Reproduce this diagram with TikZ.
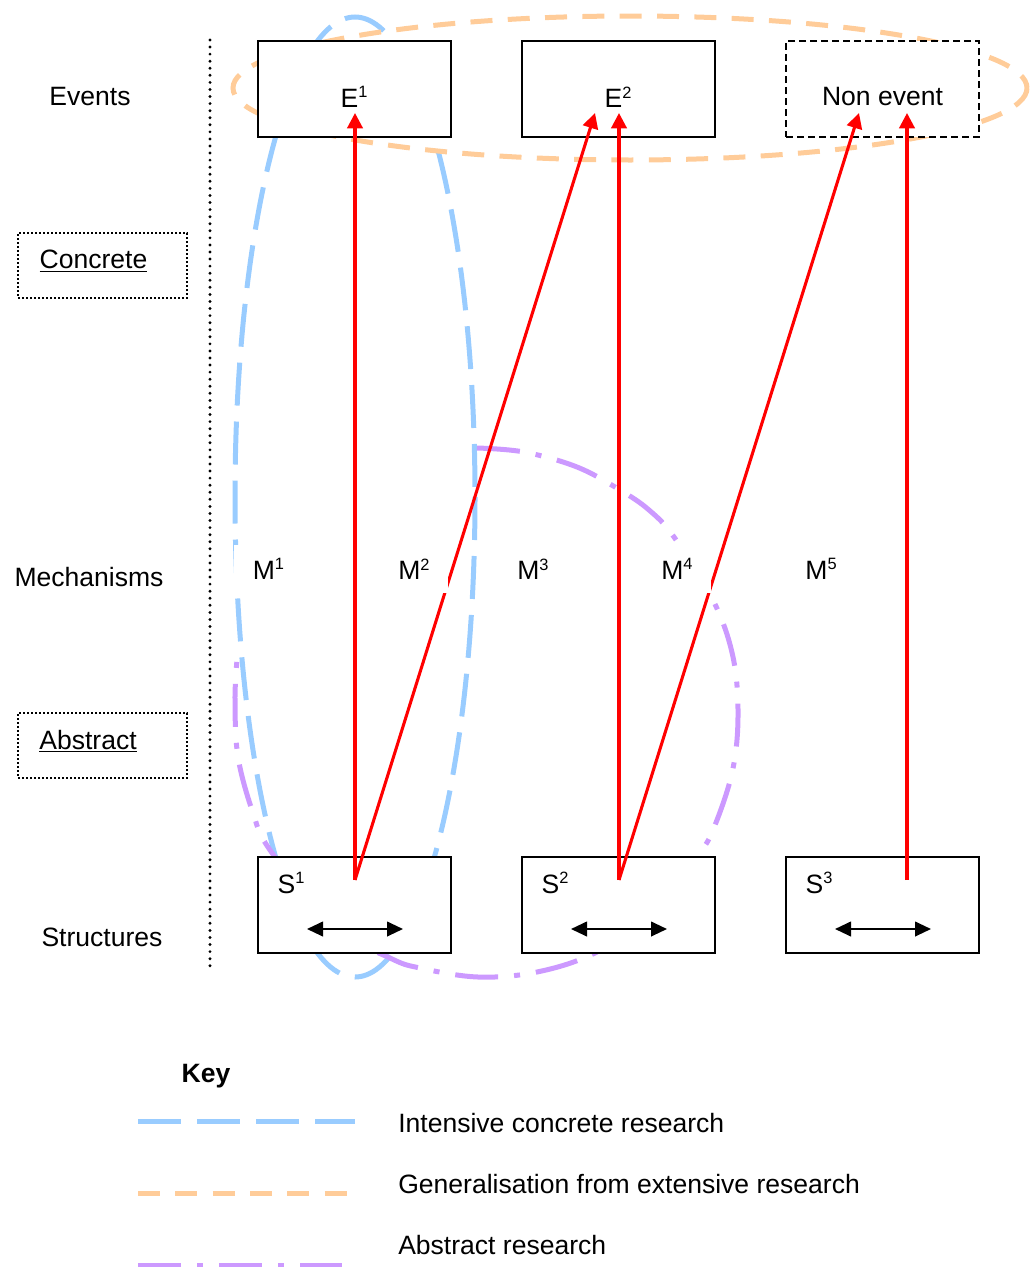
\documentclass[tikz,border=0pt]{standalone}
\usepackage{fontspec}
\setmainfont{Liberation Sans}
\usetikzlibrary{arrows.meta}
\definecolor{lblue}{HTML}{99CCFF}
\definecolor{lorange}{HTML}{FFCC99}
\definecolor{lpurple}{HTML}{CC99FF}
\newcommand\supr[1]{\raisebox{7pt}{\fontsize{12.3pt}{12pt}\selectfont #1}}
\begin{document}
\begin{tikzpicture}[x=0.75pt,y=-0.75pt,
  every node/.style={font=\fontsize{19.9pt}{23pt}\selectfont, inner sep=0pt},
  box/.style={draw=black, line width=1.5pt, fill=white, minimum width=144.75pt, minimum height=72pt, inner sep=0pt, outer sep=0pt},
  dashbox/.style={box, dash pattern=on 5.25pt off 3pt},
  dotbox/.style={draw=black, line width=1.5pt, dash pattern=on 1.5pt off 1.5pt, minimum width=126.75pt, minimum height=48.75pt, outer sep=0pt},
  blueloop/.style={draw=lblue, line width=3.75pt, dash pattern=on 32.25pt off 12pt},
  orangeloop/.style={draw=lorange, line width=3.75pt, dash pattern=on 16.5pt off 11.5pt},
  purpleloop/.style={draw=lpurple, line width=3.75pt, dash pattern=on 32.25pt off 12pt on 4.5pt off 12pt},
  redarrow/.style={draw=red, line width=2.3pt, -{Triangle[length=11.5pt,width=11.5pt]}},
  dblarrow/.style={draw=black, line width=1.5pt, {Triangle[length=12pt,width=11pt]}-{Triangle[length=12pt,width=11pt]}},
  mlabel/.style={fill=white, inner xsep=14pt, minimum height=36pt},
  sidedots/.style={draw=black, line width=2.4pt, line cap=round, dash pattern=on 0pt off 5.3pt},
]
\useasboundingbox (0,0) rectangle (1031,1267);

% side column
\coordinate (vtop) at (210,40);
\coordinate (vbot) at (210,970);
\draw[sidedots] (vtop) -- (vbot);
\node (ev) at (90,97) {Events};
\node[dotbox] (concbox) at (102.5,265.5) {};
\node (conc) at (93.5,261) {\underline{Concrete}};
\node (mech) at (89,577) {Mechanisms};
\node[dotbox] (absbox) at (102.5,745.5) {};
\node (abs) at (88,741) {\underline{Abstract}};
\node (str) at (102,937) {Structures};

% research loops (drawn beneath the boxes)
\draw[blueloop] (355,497) ellipse [x radius=120, y radius=480];
\draw[orangeloop] (630,88) ellipse [x radius=397, y radius=72];
\draw[purpleloop] plot[smooth, tension=0.6] coordinates {(477,448) (524,452) (577,467) (620,490) (649,510) (674,537) (713,600) (733,657) (738,717) (732,773) (713,830) (697,857) (655,915) (595,953) (537,972) (478,977) (420,968) (390,958) (330,925) (270,850) (253,813) (238,757) (235,700) (237,660)};

% event boxes
\node[box] (e1) at (354.5,89) {};
\node[box] (e2) at (618.5,89) {};
\node[dashbox] (ne) at (882.5,89) {};
\node (e1l) at (354,97) {E\supr{1}};
\node (e2l) at (618,97) {E\supr{2}};
\node (nel) at (882.5,97) {Non event};

% structure boxes
\node[box] (s1) at (354.5,905) {};
\node[box] (s2) at (618.5,905) {};
\node[box] (s3) at (882.5,905) {};
\node (s1l) at (291,883) {S\supr{1}};
\node (s2l) at (555,883) {S\supr{2}};
\node (s3l) at (819,883) {S\supr{3}};
\coordinate (s1a) at (307,929); \coordinate (s1b) at (403,929);
\coordinate (s2a) at (571,929); \coordinate (s2b) at (667,929);
\coordinate (s3a) at (835,929); \coordinate (s3b) at (931,929);
\draw[dblarrow] (s1a) -- (s1b);
\draw[dblarrow] (s2a) -- (s2b);
\draw[dblarrow] (s3a) -- (s3b);

% causal arrows
\coordinate (s1o) at (355,880);
\coordinate (s2o) at (619,880);
\coordinate (s3o) at (907,880);
\coordinate (e1i) at (355,113);
\coordinate (e2a) at (595,113);
\coordinate (e2b) at (619,113);
\coordinate (nea) at (859,113);
\coordinate (neb) at (907,113);
\draw[redarrow] (s1o) -- (e1i);
\draw[redarrow] (s1o) -- (e2a);
\draw[redarrow] (s2o) -- (e2b);
\draw[redarrow] (s2o) -- (nea);
\draw[redarrow] (s3o) -- (neb);

% mechanisms
\node[mlabel] (m1) at (268.5,569) {M\supr{1}};
\node[mlabel] (m2) at (414,569) {M\supr{2}};
\node[mlabel] (m3) at (533,569) {M\supr{3}};
\node[mlabel] (m4) at (677,569) {M\supr{4}};
\node[mlabel] (m5) at (821,569) {M\supr{5}};

% key
\node[font=\fontsize{19.9pt}{23pt}\selectfont\bfseries] (key) at (206,1076) {Key};
\coordinate (k1a) at (138,1121); \coordinate (k1b) at (355,1121);
\coordinate (k2a) at (138,1193); \coordinate (k2b) at (347,1193);
\coordinate (k3a) at (138,1265); \coordinate (k3b) at (342,1265);
\draw[blueloop] (k1a) -- (k1b);
\draw[orangeloop] (k2a) -- (k2b);
\draw[purpleloop] (k3a) -- (k3b);
\node[anchor=west] (k1t) at (398,1123) {Intensive concrete research};
\node[anchor=west] (k2t) at (398,1184) {Generalisation from extensive research};
\node[anchor=west] (k3t) at (398,1245) {Abstract research};
\end{tikzpicture}
\end{document}
